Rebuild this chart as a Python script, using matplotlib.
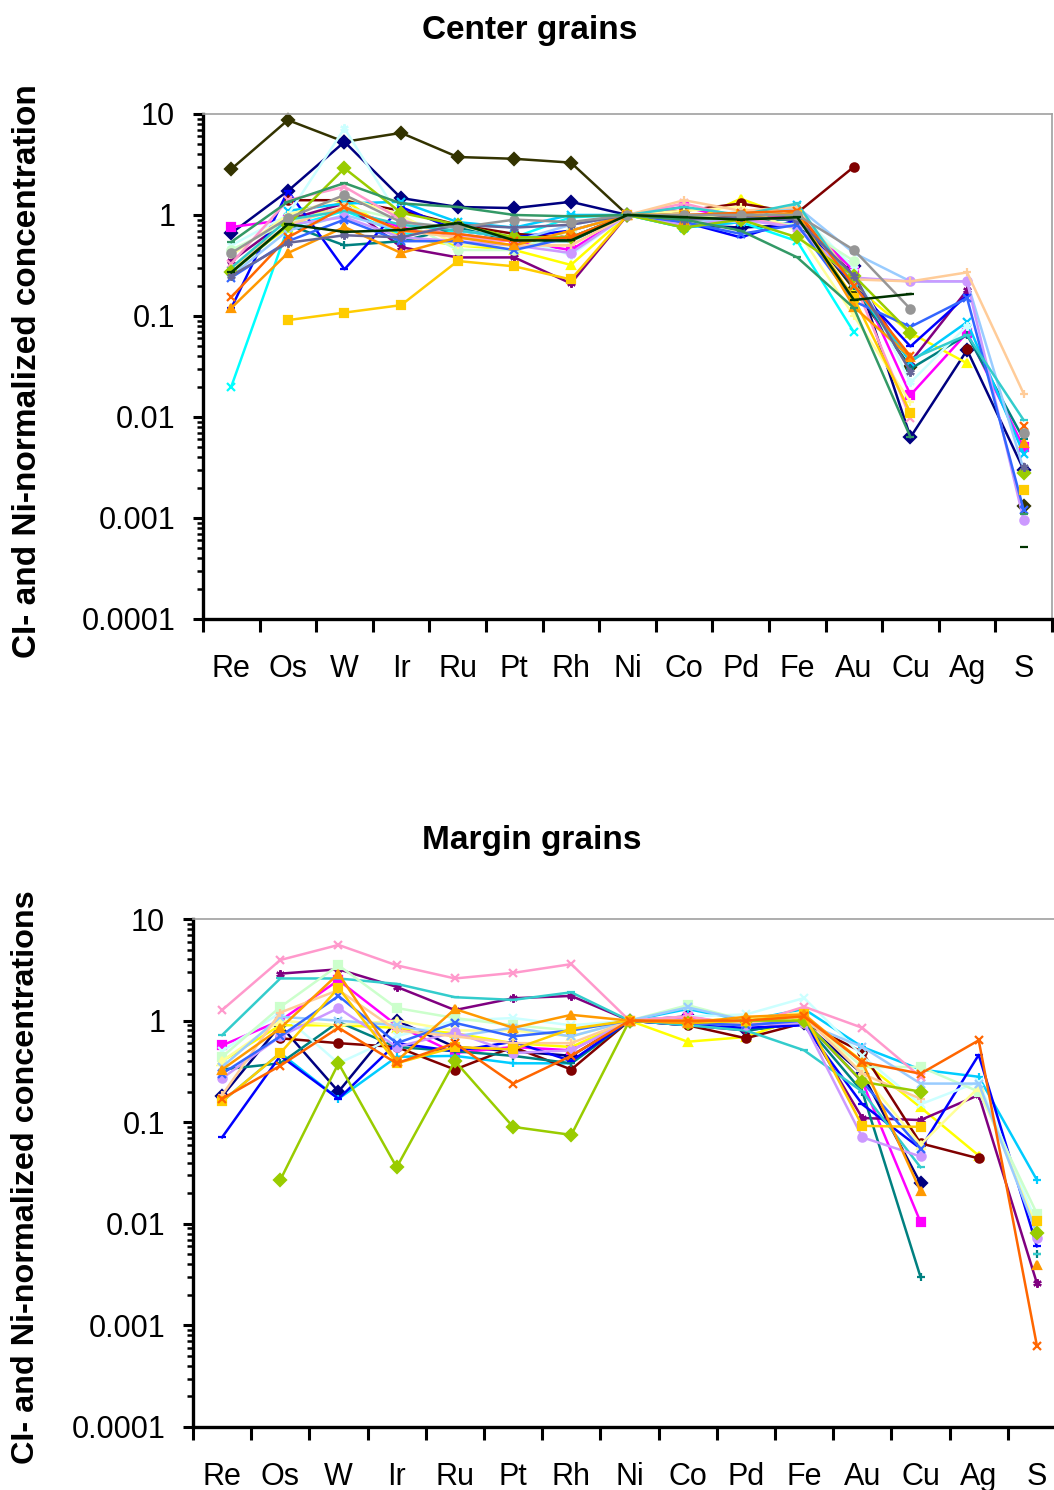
import numpy as np
import matplotlib
matplotlib.use('Agg')
import matplotlib.pyplot as plt
from matplotlib.ticker import FixedLocator, NullFormatter, LogLocator

plt.rcParams['font.family'] = ['Liberation Sans', 'DejaVu Sans']

ELEMENTS = ['Re', 'Os', 'W', 'Ir', 'Ru', 'Pt', 'Rh', 'Ni', 'Co', 'Pd', 'Fe', 'Au', 'Cu', 'Ag', 'S']
YTICKS = [0.0001, 0.001, 0.01, 0.1, 1, 10]
YTICK_LABELS = ['0.0001', '0.001', '0.01', '0.1', '1', '10']
n = np.nan

# center grains, one row per grain (Re ... S)
CENTER = [
    [2.85, 8.7, 5.3, 6.5, 3.75, 3.6, 3.3, 1, 0.95, 0.95, 0.95, 0.185, 0.031, n, 0.0013],
    [0.66, 1.73, 5.3, 1.47, 1.2, 1.17, 1.35, 1, 0.8, 0.75, 0.8, 0.31, 0.0063, 0.046, 0.003],
    [0.76, 0.9, 1.17, 0.75, 0.6, 0.55, 0.45, 1, 1.2, 0.9, 1.0, 0.28, 0.0165, 0.068, 0.005],
    [0.3, 0.75, 1.4, 0.6, 0.5, 0.45, 0.32, 1, 0.8, 1.45, 0.9, 0.2, 0.068, 0.034, n],
    [0.02, 0.75, 1.1, 0.65, 0.7, 0.6, 0.95, 1, 0.75, 0.85, 0.55, 0.069, n, n, n],
    [0.35, 0.9, 1.3, 0.48, 0.38, 0.38, 0.21, 1, 0.9, 1.0, 1.0, 0.25, 0.035, 0.18, n],
    [n, 1.4, 1.4, 1.1, 0.8, 0.65, 0.6, 1, 1.1, 1.3, 1.05, 3.0, n, 0.047, n],
    [0.27, 0.8, 0.5, 0.55, 0.75, 0.55, 0.55, 1, 0.9, 0.9, 0.9, 0.2, 0.03, 0.065, 0.006],
    [0.12, 1.73, 0.29, 1.2, 0.7, 0.6, 0.7, 1, 0.85, 0.6, 0.9, 0.2, 0.05, 0.16, n],
    [n, 1.1, 1.3, 1.35, 0.85, 0.75, 1.0, 1, 0.75, 0.85, 1.25, 0.2, 0.035, 0.087, 0.0043],
    [0.5, 1.0, 7.2, 0.9, 0.7, 0.6, 0.4, 1, 0.9, 1.1, 1.1, 0.3, 0.022, 0.08, n],
    [0.45, 0.85, 1.2, 0.9, 0.45, 0.45, 0.7, 1, 1.0, 0.9, 0.8, 0.35, n, n, n],
    [0.4, 1.0, 1.5, 1.0, 0.5, 0.5, 0.5, 1, 1.1, 1.2, 0.7, 0.1, 0.014, n, n],
    [0.25, 0.7, 1.0, 0.7, 0.65, 0.55, 0.8, 1, 0.9, 0.85, 1.2, 0.42, 0.22, 0.22, 0.003],
    [0.33, 1.4, 1.9, 0.9, 0.6, 0.55, 0.6, 1, 1.3, 0.95, 0.75, 0.22, 0.0098, n, n],
    [n, 0.8, 0.95, 0.6, 0.55, 0.5, 0.42, 1, 0.8, 0.9, 0.75, 0.24, 0.22, 0.22, 0.00095],
    [0.3, 0.8, 1.2, 0.7, 0.6, 0.5, 0.5, 1, 1.4, 1.1, 1.2, 0.23, 0.22, 0.27, 0.017],
    [0.24, 0.55, 0.9, 0.55, 0.55, 0.45, 0.6, 1, 0.85, 0.65, 0.8, 0.14, 0.078, 0.15, 0.0012],
    [0.3, 0.9, 1.1, 0.8, 0.7, 0.6, 0.6, 1, 1.2, 1.0, 1.3, 0.2, 0.037, 0.065, 0.0093],
    [0.27, 0.8, 2.9, 1.05, 0.8, 0.6, 0.6, 1, 0.75, 0.9, 0.6, 0.25, 0.068, n, 0.0028],
    [n, 0.091, 0.108, 0.128, 0.35, 0.31, 0.23, 1, 1.0, 1.0, 1.0, 0.15, 0.011, n, 0.0019],
    [0.12, 0.42, 0.76, 0.42, 0.6, 0.5, 0.7, 1, 0.9, 0.95, 1.05, 0.123, 0.039, n, 0.0055],
    [0.154, 0.6, 1.2, 0.7, 0.65, 0.55, 0.6, 1, 1.0, 1.05, 1.1, 0.2, 0.04, n, 0.0081],
    [0.25, 0.53, 0.63, 0.6, 0.8, 0.75, 0.8, 1, 0.9, 0.95, 0.9, 0.25, 0.028, n, 0.0032],
    [0.42, 0.93, 1.58, 0.85, 0.75, 0.9, 0.85, 1, 1.0, 1.0, 1.0, 0.45, 0.117, n, 0.0069],
    [0.54, 1.35, 2.07, 1.3, 1.2, 1.0, 0.97, 1, 0.9, 0.7, 0.38, 0.12, 0.0063, n, 0.0011],
    [0.27, 0.81, 0.68, 0.71, 0.83, 0.56, 0.56, 1, 0.95, 0.9, 0.95, 0.144, 0.165, n, 0.00051],
]
CENTER_COLORS = ['#333300', '#000080', '#FF00FF', '#FFFF00', '#00FFFF', '#800080', '#800000',
                 '#008080', '#0000FF', '#00CCFF', '#CCFFFF', '#CCFFCC', '#FFFF99', '#99CCFF',
                 '#FF99CC', '#CC99FF', '#FFCC99', '#3366FF', '#33CCCC', '#99CC00', '#FFCC00',
                 '#FF9900', '#FF6600', '#666699', '#969696', '#339966', '#003300']
CENTER_MARKERS = ['D', 'D', 's', '^', 'x', 'ast', 'o', '+', '_', 'x', 'ast', 'o', '+', '_',
                  'x', 'o', '+', 'x', '_', 'D', 's', '^', 'x', 'ast', 'o', '_', '_']

# margin grains
MARGIN = [
    [0.18, 0.9, 0.2, 1.0, 0.55, 0.5, 0.45, 1, 1.1, 0.8, 0.95, 0.3, 0.025, n, n],
    [0.57, 1.0, 2.5, 0.9, 0.48, 0.55, 0.51, 1, 1.09, 0.9, 1.0, 0.25, 0.0104, n, n],
    [0.4, 0.9, 0.9, 0.85, 0.75, 0.6, 0.55, 1, 0.62, 0.69, 1.1, 0.4, 0.14, 0.047, n],
    [0.16, 0.48, 0.17, 0.44, 0.45, 0.38, 0.38, 1, 1.3, 1.0, 1.3, 0.55, 0.33, 0.28, 0.027],
    [n, 2.9, 3.2, 2.15, 1.27, 1.66, 1.75, 1, 0.9, 0.8, 1.0, 0.11, 0.105, 0.185, 0.0026],
    [n, 0.67, 0.6, 0.55, 0.33, 0.55, 0.33, 1, 0.9, 0.67, 0.95, 0.49, 0.062, 0.044, n],
    [0.33, 0.38, 0.97, 0.55, 0.5, 0.45, 0.38, 1, 0.95, 0.8, 0.95, 0.2, 0.003, n, 0.005],
    [0.071, 0.45, 0.17, 0.6, 0.5, 0.62, 0.4, 1, 0.9, 0.85, 0.9, 0.15, 0.055, 0.46, 0.006],
    [0.72, 2.6, 2.6, 2.3, 1.7, 1.6, 1.9, 1, 0.9, 0.8, 0.51, 0.2, 0.036, n, 0.005],
    [0.5, 1.2, 0.38, 0.7, 1.0, 1.06, 0.9, 1, 1.1, 1.15, 1.67, 0.45, 0.15, 0.25, 0.01],
    [0.44, 1.36, 3.5, 1.33, 1.06, 0.9, 0.8, 1, 1.42, 1.0, 1.1, 0.35, 0.35, 0.2, 0.0126],
    [0.4, 1.0, 0.9, 1.0, 0.8, 0.8, 0.7, 1, 1.0, 1.05, 1.2, 0.3, 0.06, 0.22, 0.009],
    [0.35, 1.09, 1.0, 0.9, 0.7, 0.85, 0.7, 1, 1.35, 1.0, 0.95, 0.55, 0.24, 0.24, 0.008],
    [1.27, 3.95, 5.56, 3.5, 2.6, 2.95, 3.6, 1, 1.1, 0.9, 1.37, 0.85, 0.28, n, n],
    [0.27, 0.7, 1.33, 0.55, 0.77, 0.48, 0.51, 1, 0.95, 0.9, 0.95, 0.071, 0.046, n, 0.0072],
    [0.185, 1.2, 2.0, 0.8, 0.7, 0.6, 0.6, 1, 1.0, 0.95, 1.1, 0.3, 0.17, n, n],
    [0.3, 0.7, 1.75, 0.6, 0.95, 0.7, 0.8, 1, 0.95, 0.9, 1.0, 0.25, 0.055, n, n],
    [n, 0.027, 0.38, 0.036, 0.4, 0.09, 0.075, 1, 0.95, 1.0, 1.0, 0.25, 0.2, n, 0.0082],
    [0.16, 0.48, 2.1, 0.38, 0.55, 0.52, 0.83, 1, 0.95, 1.0, 1.15, 0.092, 0.09, n, 0.0107],
    [0.33, 0.84, 2.9, 0.4, 1.3, 0.85, 1.14, 1, 0.95, 1.09, 1.15, 0.39, 0.021, n, 0.0039],
    [0.17, 0.36, 0.85, 0.38, 0.6, 0.24, 0.45, 1, 1.0, 1.0, 1.1, 0.39, 0.3, 0.64, 0.00063],
]
MARGIN_COLORS = ['#000080', '#FF00FF', '#FFFF00', '#00CCFF', '#800080', '#800000', '#008080',
                 '#0000FF', '#33CCCC', '#CCFFFF', '#CCFFCC', '#FFFF99', '#99CCFF', '#FF99CC',
                 '#CC99FF', '#FFCC99', '#3366FF', '#99CC00', '#FFCC00', '#FF9900', '#FF6600']
MARGIN_MARKERS = ['D', 's', '^', '+', 'ast', 'o', '+', '_', '_', 'x', 's', '^', 'x', 'x',
                  'o', '+', 'x', 'D', 's', '^', 'x']


def draw(ax, rows, colors, markers):
    x = np.arange(len(ELEMENTS))
    for vals, c, m in zip(rows, colors, markers):
        mk = (6, 2, 0) if m == 'ast' else m
        ax.plot(x, vals, color=c, lw=1.8, marker=mk, ms=6, mew=1.6,
                mec=c, mfc=c, clip_on=False)
    ax.set_yscale('log')
    ax.set_ylim(0.0001, 10)
    ax.set_xlim(-0.5, len(ELEMENTS) - 0.5)
    ax.set_yticks(YTICKS)
    ax.set_yticklabels(YTICK_LABELS)
    ax.yaxis.set_minor_locator(LogLocator(base=10, subs=np.arange(2, 10)))
    ax.yaxis.set_minor_formatter(NullFormatter())
    ax.set_xticks(x)
    ax.set_xticklabels(ELEMENTS)
    ax.xaxis.set_minor_locator(FixedLocator(np.arange(-0.5, len(ELEMENTS), 1.0)))
    ax.tick_params(axis='x', which='major', length=0, pad=25, labelsize=22)
    ax.tick_params(axis='x', which='minor', length=9, width=2.2, direction='out')
    ax.tick_params(axis='y', which='major', length=7, width=2.2, pad=13, labelsize=22)
    ax.tick_params(axis='y', which='minor', length=4.5, width=1.8)
    for s in ('left', 'bottom'):
        ax.spines[s].set_linewidth(2.4)
        ax.spines[s].set_color('black')
    for s in ('top', 'right'):
        ax.spines[s].set_linewidth(1.2)
        ax.spines[s].set_color('#a0a0a0')


fig = plt.figure(figsize=(10.54, 14.90), dpi=100)

ax1 = fig.add_axes([0.1926, 0.5846, 0.8055, 0.3389])
draw(ax1, CENTER, CENTER_COLORS, CENTER_MARKERS)
ax2 = fig.add_axes([0.1831, 0.0423, 0.8283, 0.3409])
draw(ax2, MARGIN, MARGIN_COLORS, MARGIN_MARKERS)

fig.text(530 / 1054, 1 - 31 / 1490, 'Center grains', ha='center', va='center',
         fontsize=24, fontweight='bold')
fig.text(532 / 1054, 1 - 840 / 1490, 'Margin grains', ha='center', va='center',
         fontsize=24, fontweight='bold')
fig.text(28 / 1054, 1 - 371 / 1490, 'CI- and Ni-normalized concentration', rotation=90,
         ha='center', va='center', fontsize=24, fontweight='bold')
fig.text(26 / 1054, 1 - 1177 / 1490, 'CI- and Ni-normalized concentrations', rotation=90,
         ha='center', va='center', fontsize=23.3, fontweight='bold')

fig.savefig('out.png', dpi=100)
